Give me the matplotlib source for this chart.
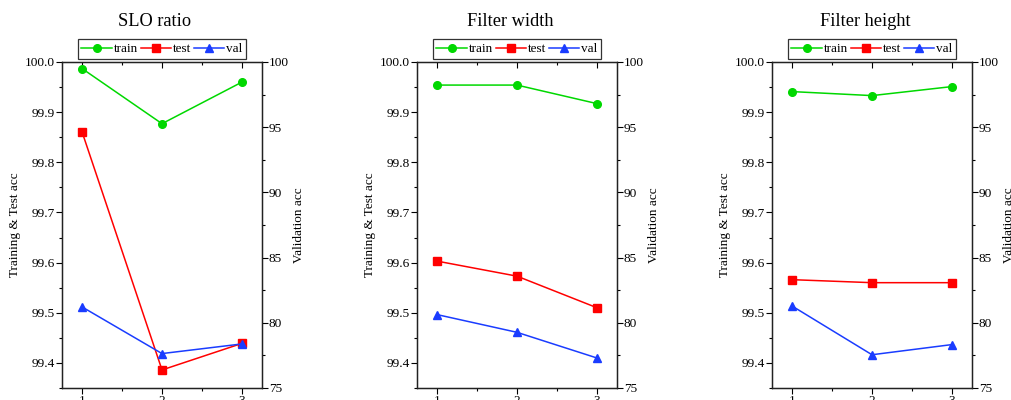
import numpy as np
import matplotlib
matplotlib.use('Agg')
import matplotlib.pyplot as plt
from matplotlib.ticker import MultipleLocator

plt.rcParams['font.family'] = ['Liberation Serif', 'DejaVu Serif']

x = [1, 2, 3]
titles = ["SLO ratio", "Filter width", "Filter height"]

# left axis (Training & Test acc)
train_slo = [99.987, 99.877, 99.960]
test_slo = [99.861, 99.386, 99.439]
train_width = [99.954, 99.954, 99.917]
test_width = [99.603, 99.573, 99.510]
train_height = [99.941, 99.933, 99.951]
test_height = [99.566, 99.560, 99.560]

# right axis (Validation acc)
val_slo = [81.22, 77.64, 78.38]
val_width = [80.63, 79.27, 77.30]
val_height = [81.29, 77.55, 78.33]

trains = [train_slo, train_width, train_height]
tests = [test_slo, test_width, test_height]
vals = [val_slo, val_width, val_height]

green = '#00d800'
red = '#ff0000'
blue = '#1a3cff'
fs = 9.5

fig = plt.figure(figsize=(10.11, 4.0), dpi=100)
lefts = [62 / 1011, 417 / 1011, 772 / 1011]
w = 200 / 1011
b = 12 / 400
h = (388 - 62) / 400

for i in range(3):
    ax = fig.add_axes([lefts[i], b, w, h])
    ax2 = ax.twinx()

    l1, = ax.plot(x, trains[i], color=green, marker='o', ms=5.5, lw=1.1, label='train')
    l2, = ax.plot(x, tests[i], color=red, marker='s', ms=5.5, lw=1.1, label='test')
    l3, = ax2.plot(x, vals[i], color=blue, marker='^', ms=6, lw=1.1, label='val')

    ax.set_xlim(0.75, 3.25)
    ax.set_ylim(99.35, 100.0)
    ax2.set_ylim(75, 100)

    ax.set_xticks(x)
    ax.xaxis.set_minor_locator(MultipleLocator(0.5))
    ax.yaxis.set_major_locator(MultipleLocator(0.1))
    ax.yaxis.set_minor_locator(MultipleLocator(0.05))
    ax.yaxis.set_major_formatter(matplotlib.ticker.FormatStrFormatter('%.1f'))
    ax2.yaxis.set_major_locator(MultipleLocator(5))
    ax2.yaxis.set_minor_locator(MultipleLocator(2.5))

    ax.tick_params(axis='both', which='major', direction='out', length=4, width=0.8,
                   labelsize=9.6, pad=1)
    ax.tick_params(axis='both', which='minor', direction='out', length=2, width=0.8)
    ax2.tick_params(axis='y', which='major', direction='out', length=4, width=0.8,
                    labelsize=9.6, pad=1)
    ax2.tick_params(axis='y', which='minor', direction='out', length=2, width=0.8)
    # top ticks point inward
    ax.xaxis.set_tick_params(which='both', top=True)
    for t in ax.xaxis.get_major_ticks() + ax.xaxis.get_minor_ticks():
        t.tick2line.set_marker(3)

    for s in ax2.spines.values():
        s.set_linewidth(0.9)
        s.set_color('#222222')
    for s in ax.spines.values():
        s.set_linewidth(0.9)

    ax.set_ylabel('Training & Test acc', fontsize=fs, labelpad=3)
    ax2.set_ylabel('Validation acc', fontsize=fs, labelpad=3)

    ax.text(0.465, 1.123, titles[i], transform=ax.transAxes, ha='center', va='center',
            fontsize=13.2)

    leg = ax.legend(handles=[l1, l2, l3], loc='lower center', bbox_to_anchor=(0.5, 1.0),
                    ncol=3, fontsize=fs, frameon=True, fancybox=False, edgecolor='black',
                    borderaxespad=0.2, handlelength=2.3, handletextpad=0.15,
                    columnspacing=0.2, borderpad=0.3)
    leg.get_frame().set_linewidth(0.9)

plt.savefig('out.png', dpi=100)
